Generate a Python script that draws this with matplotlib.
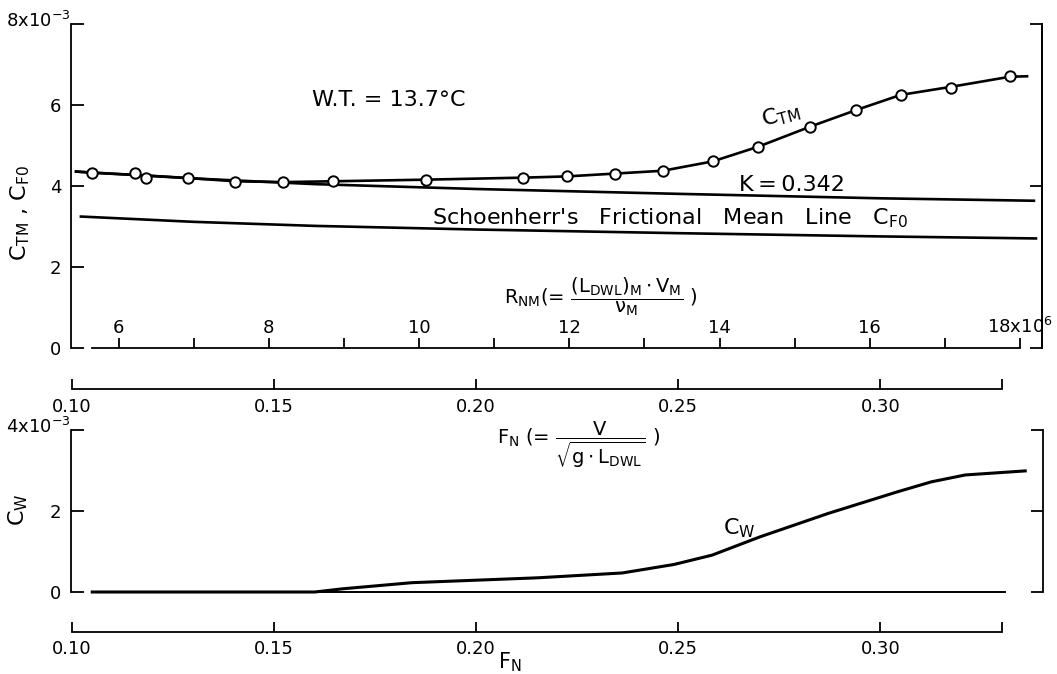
import matplotlib
matplotlib.use('Agg')
import matplotlib.pyplot as plt
from matplotlib.transforms import ScaledTranslation

plt.rcParams['font.family'] = ['DejaVu Sans']
plt.rcParams['mathtext.default'] = 'regular'

W, H, DPI = 1057, 674, 100

# ---------------- data ----------------
# Measured C_TM points (x = Froude number F_N, y in units of 1e-3)
ctm_fn = [0.1050, 0.1156, 0.1182, 0.1288, 0.1404, 0.1523, 0.1645, 0.1875, 0.2117,
          0.2224, 0.2343, 0.2462, 0.2585, 0.2697, 0.2827, 0.2941, 0.3050, 0.3175, 0.3321]
ctm_val = [4.33, 4.33, 4.20, 4.20, 4.11, 4.10, 4.13, 4.16, 4.21,
           4.24, 4.31, 4.38, 4.61, 4.97, 5.47, 5.88, 6.25, 6.43, 6.71]

# Faired C_TM curve
ctm_line_fn = [0.1010, 0.1050, 0.1170, 0.1288, 0.1404, 0.1523, 0.1645, 0.1875, 0.2117,
               0.2224, 0.2343, 0.2462, 0.2585, 0.2697, 0.2827, 0.2941, 0.3050, 0.3175,
               0.3321, 0.3363]
ctm_line_val = [4.36, 4.33, 4.27, 4.20, 4.12, 4.10, 4.12, 4.16, 4.21,
                4.24, 4.31, 4.38, 4.61, 4.97, 5.47, 5.88, 6.25, 6.45,
                6.70, 6.71]

# (1+K) C_F0 line, K = 0.342
k_fn = [0.1010, 0.1300, 0.1600, 0.2000, 0.2500, 0.3000, 0.3380]
k_val = [4.36, 4.19, 4.05, 3.93, 3.81, 3.70, 3.64]

# Schoenherr's frictional mean line C_F0
cf0_fn = [0.1022, 0.1300, 0.1600, 0.2000, 0.2500, 0.3000, 0.3385]
cf0_val = [3.25, 3.12, 3.02, 2.93, 2.84, 2.76, 2.71]

# Wave-making resistance coefficient C_W
cw_fn = [0.1050, 0.1600, 0.1670, 0.1840, 0.2150, 0.2360, 0.2488, 0.2582, 0.2700,
         0.2869, 0.3039, 0.3124, 0.3208, 0.3356]
cw_val = [0.00, 0.00, 0.08, 0.23, 0.35, 0.47, 0.68, 0.91, 1.36,
          1.94, 2.47, 2.72, 2.89, 2.99]
zero_fn = [0.1050, 0.3305]
zero_val = [0.0, 0.0]

# Axes scales / ticks
FN_LIM = (0.09975, 0.3400)
RN_PER_FN = 53.8            # R_NM (x1e6) = 53.8 * F_N
RN_AXIS_START = 5.65
RN_major = [6, 8, 10, 12, 14, 16, 18]
RN_major_labels = ['6', '8', '10', '12', '14', '16', '18x10$^{6}$']
RN_minor = [7, 9, 11, 13, 15, 17]
FN_AXIS_END = 0.3302
FN_ticks = [0.10, 0.15, 0.20, 0.25, 0.30]
FN_labels = ['0.10', '0.15', '0.20', '0.25', '0.30']
top_yticks = [0, 2, 4, 6, 8]
top_ylabels = ['0', '2', '4', '6', '8x10$^{-3}$']
top_right_ticks = [0, 4, 8]
bot_yticks = [0, 2, 4]
bot_ylabels = ['0', '2', '4x10$^{-3}$']

# ---------------- layout ----------------
fig = plt.figure(figsize=(W / DPI, H / DPI), dpi=DPI)
fig.patch.set_facecolor('white')


def rect(x0, y_top, x1, y_bot):
    return [x0 / W, 1 - y_bot / H, (x1 - x0) / W, (y_bot - y_top) / H]


LW_AX = 1.3
TS = 13     # tick label size
FS = 16     # annotation size

X0, X1 = 71, 1042
top_label_shift = ScaledTranslation(6.5 / 72, 3.6 / 72, fig.dpi_scale_trans)

# ---- top panel ----
ax = fig.add_axes(rect(X0, 24, X1, 348.3))
ax.set_xlim(*FN_LIM)
ax.set_ylim(0, 8)
ax.patch.set_alpha(0)
for s in ('top', 'bottom'):
    ax.spines[s].set_visible(False)
ax.spines['left'].set_linewidth(LW_AX)
ax.spines['right'].set_linewidth(LW_AX)
ax.set_xticks([])
ax.set_yticks(top_yticks)
ax.set_yticklabels(top_ylabels)
ax.tick_params(axis='y', direction='in', length=9, width=LW_AX, labelsize=TS, pad=7)
lab = ax.get_yticklabels()[-1]
lab.set_transform(lab.get_transform() + top_label_shift)
sec = ax.secondary_yaxis('right')
sec.set_yticks(top_right_ticks)
sec.tick_params(direction='in', length=9, width=LW_AX, labelright=False)
sec.spines['right'].set_linewidth(LW_AX)

ax.plot(ctm_line_fn, ctm_line_val, color='black', lw=1.9, clip_on=False, zorder=3)
ax.plot(k_fn, k_val, color='black', lw=1.9, clip_on=False, zorder=2)
ax.plot(cf0_fn, cf0_val, color='black', lw=1.9, clip_on=False, zorder=2)
ax.plot(ctm_fn, ctm_val, 'o', mfc='white', mec='black', ms=7.5, mew=1.4,
        clip_on=False, zorder=4)

ax.text(0.1593, 6.12, 'W.T. = 13.7°C', fontsize=FS, va='center', ha='left')
ax.text(0.2755, 5.75, 'C$_{TM}$', fontsize=FS, rotation=15, va='center', ha='center')
ax.text(0.2651, 4.03, 'K\u2009=\u20090.342', fontsize=FS, va='center', ha='left')
ax.text(0.1890, 3.21, "Schoenherr's   Frictional   Mean   Line   C$_{F0}$",
        fontsize=FS, va='center', ha='left')
ax.text(0.2308, 1.28, r'R$_{NM}$(= $\dfrac{(L_{DWL})_M \cdot V_M}{\nu_M}$ )',
        fontsize=14, va='center', ha='center')
ax.set_ylabel('C$_{TM}$ , C$_{F0}$', fontsize=FS)
ax.yaxis.set_label_coords(-0.040, 0.417)

# ---- R_NM axis (below top panel) ----
axr = fig.add_axes(rect(X0, 348.2, X1, 348.3))
axr.set_xlim(FN_LIM[0] * RN_PER_FN, FN_LIM[1] * RN_PER_FN)
axr.patch.set_alpha(0)
for s in ('top', 'left', 'right'):
    axr.spines[s].set_visible(False)
axr.spines['bottom'].set_bounds(RN_AXIS_START, RN_major[-1])
axr.spines['bottom'].set_linewidth(LW_AX)
axr.set_yticks([])
axr.set_xticks(RN_major)
axr.set_xticklabels(RN_major_labels)
axr.set_xticks(RN_minor, minor=True)
axr.tick_params(axis='x', which='both', direction='in', length=7, width=LW_AX,
                bottom=True, top=False, labelbottom=False, labeltop=True,
                labelsize=TS, pad=8)


# ---- F_N axes ----
def fn_axis(y):
    a = fig.add_axes(rect(X0, y - 0.1, X1, y))
    a.set_xlim(*FN_LIM)
    a.patch.set_alpha(0)
    for s in ('top', 'left', 'right'):
        a.spines[s].set_visible(False)
    a.spines['bottom'].set_bounds(FN_ticks[0], FN_AXIS_END)
    a.spines['bottom'].set_linewidth(LW_AX)
    a.set_yticks([])
    a.set_xticks(FN_ticks)
    a.set_xticklabels(FN_labels)
    a.set_xticks([FN_AXIS_END], minor=True)
    a.tick_params(axis='x', which='both', direction='in', length=7, width=LW_AX,
                  labelsize=TS, pad=6)
    return a


fn_axis(389.3)

# ---- bottom panel ----
axb = fig.add_axes(rect(X0, 430, X1 + 1, 592))
axb.set_xlim(*FN_LIM)
axb.set_ylim(0, 4)
axb.patch.set_alpha(0)
for s in ('top', 'bottom'):
    axb.spines[s].set_visible(False)
axb.spines['left'].set_linewidth(LW_AX)
axb.spines['right'].set_linewidth(LW_AX)
axb.set_xticks([])
axb.set_yticks(bot_yticks)
axb.set_yticklabels(bot_ylabels)
axb.tick_params(axis='y', direction='in', length=9, width=LW_AX, labelsize=TS,
                pad=7, right=True)
lab = axb.get_yticklabels()[-1]
lab.set_transform(lab.get_transform() + top_label_shift)
axb.plot(cw_fn, cw_val, color='black', lw=2.2, clip_on=False, zorder=3)
axb.plot(zero_fn, zero_val, color='black', lw=1.4, clip_on=False, zorder=2)
axb.text(0.2649, 1.58, 'C$_W$', fontsize=FS, va='center', ha='center')
axb.text(0.2251, 3.63, r'F$_N$ (= $\dfrac{V}{\sqrt{g \cdot L_{DWL}}}$ )',
         fontsize=14, va='center', ha='center')
axb.set_ylabel('C$_W$', fontsize=FS)
axb.yaxis.set_label_coords(-0.042, 0.506)

# ---- F_N axis (bottom) ----
axf2 = fn_axis(632)
axf2.set_xlabel('F$_N$', fontsize=15)
axf2.xaxis.set_label_coords(510 / W, 1 - 650 / H, transform=fig.transFigure)

fig.savefig('out.png', dpi=DPI, facecolor='white')
